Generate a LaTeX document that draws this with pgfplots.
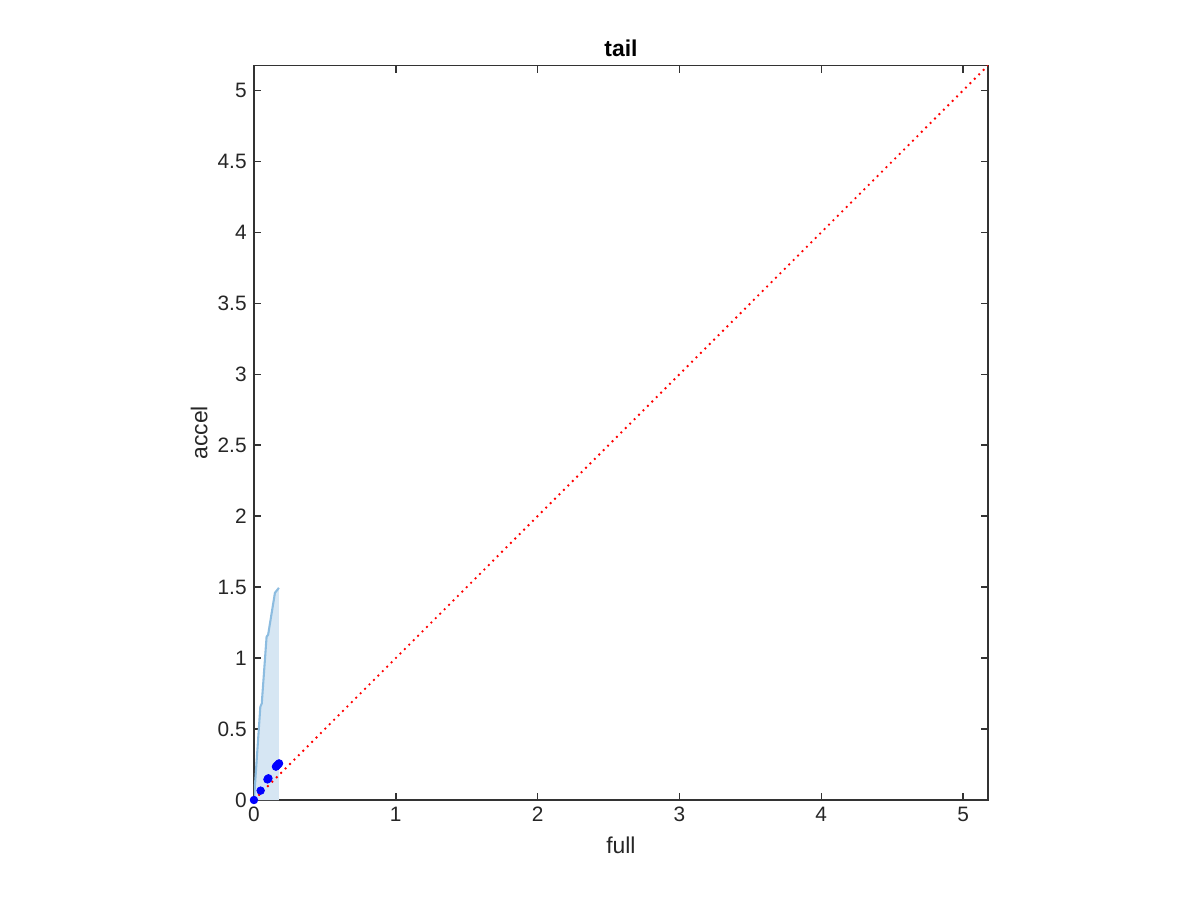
\documentclass[border=0pt]{standalone}
\usepackage{pgfplots}
\pgfplotsset{compat=1.18}
\usepackage{fontspec}
\setmainfont{Liberation Sans}
\begin{document}
\begin{tikzpicture}
\path[use as bounding box] (0,0) rectangle (576pt,432pt);
\begin{axis}[
  at={(121.9pt,48pt)}, anchor=south west,
  scale only axis, width=352.3pt, height=352.5pt,
  xmin=0, xmax=5.175, ymin=0, ymax=5.175,
  xtick={0,1,2,3,4,5}, ytick={0,0.5,...,5},
  tick align=inside, tick pos=both,
  major tick length=3.4pt,
  axis line style={color=black!80, line width=0.6pt},
  every tick/.style={color=black!80, line width=0.7pt},
  tick label style={font=\fontsize{10}{12}\selectfont, color=black!85},
  /pgf/number format/assume math mode=true,
  yticklabel style={/pgf/number format/fixed},
  title={\textbf{tail}}, title style={font=\fontsize{11}{13}\selectfont, yshift=-5.5pt},
  xlabel={full}, ylabel={accel},
  label style={font=\fontsize{11}{13}\selectfont, color=black!85},
  xlabel style={yshift=0pt},
  ylabel style={yshift=-2pt},
  clip=true,
]
\addplot[draw=none, fill={rgb,255:red,214;green,230;blue,243}] coordinates {
 (0,0) (0.045,0.657) (0.055,0.68) (0.089,1.15) (0.10,1.165) (0.148,1.46) (0.176,1.495) (0.176,0) (0,0)};
\addplot[color={rgb,255:red,140;green,188;blue,224}, line width=1pt] coordinates {
 (0,0) (0.045,0.657) (0.055,0.68) (0.089,1.15) (0.10,1.165) (0.148,1.46) (0.176,1.495)};
\addplot[red, line width=0.9pt, dash pattern=on 0.9pt off 2.1pt] coordinates {(0,0) (5.175,5.175)};
\addplot[only marks, mark=*, mark size=1.8pt, color=blue] coordinates {
 (0,0) (0.047,0.066) (0.095,0.145) (0.102,0.153) (0.155,0.235) (0.162,0.243) (0.170,0.250) (0.177,0.258)};
\end{axis}
\end{tikzpicture}
\end{document}
